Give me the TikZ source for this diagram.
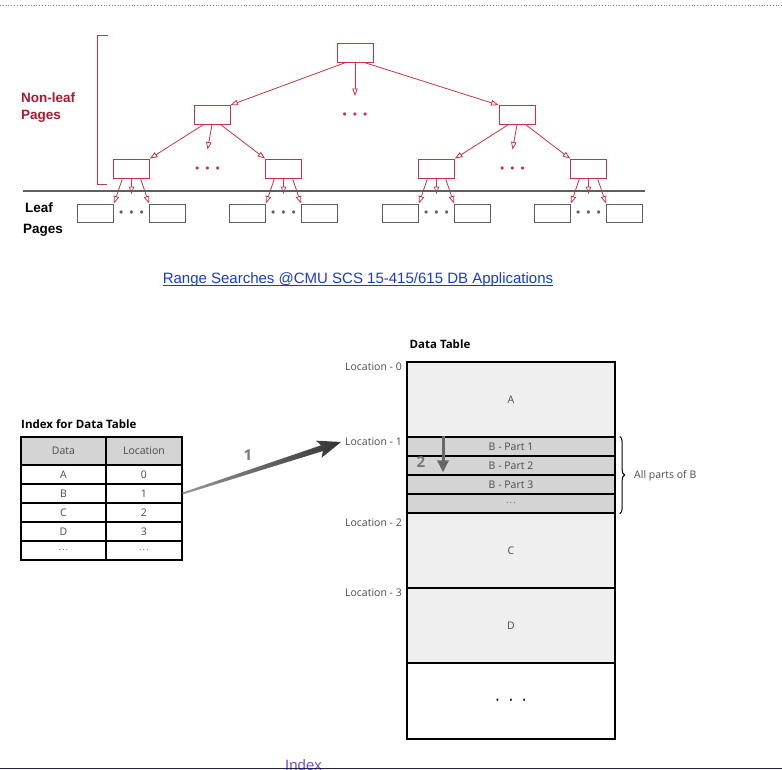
\documentclass[tikz,border=0pt]{standalone}
\usepackage{fontspec}
\setmainfont{Open Sans}
\newfontfamily\arialfont{Liberation Sans}
\usetikzlibrary{trees,arrows.meta,calc,decorations.pathreplacing}

\definecolor{treered}{RGB}{196,52,72}
\definecolor{labelred}{RGB}{172,24,44}
\definecolor{leafgray}{RGB}{95,95,95}
\definecolor{linkblue}{RGB}{28,58,205}
\definecolor{visited}{RGB}{110,80,205}
\definecolor{navyline}{RGB}{30,32,80}
\definecolor{headgray}{RGB}{212,212,212}
\definecolor{cellgray}{RGB}{239,239,239}
\definecolor{textgray}{RGB}{75,75,75}
\definecolor{stepgray}{RGB}{120,120,120}

\newcommand{\threedots}{$\bullet$\hspace{6pt}$\bullet$\hspace{6pt}$\bullet$}

\begin{document}
\begin{tikzpicture}[x=1pt,y=-1pt,
level 1/.style={level distance=62.5pt,sibling distance=152.5pt},
level 2/.style={level distance=53.5pt,sibling distance=76pt},
level 3/.style={level distance=44.5pt,sibling distance=36pt},
edge from parent/.style={draw=treered,line width=0.8pt,-{Triangle[open,length=7.5pt,width=5.5pt]}}]
\tikzstyle{page}=[draw=treered,line width=0.8pt,minimum width=36pt,minimum height=19pt,inner sep=0pt]
\tikzstyle{leaf}=[draw=leafgray,line width=1pt,minimum width=36pt,minimum height=18pt,inner sep=0pt]
\tikzstyle{dots}=[text=treered,font=\fontsize{8}{8}\selectfont,inner sep=0pt]
\tikzstyle{leafdots}=[dots,text=leafgray]
\tikzstyle{toleft}=[edge from parent path={([xshift=-9pt]\tikzparentnode.south) -- (\tikzchildnode.north east)}]
\tikzstyle{tomid}=[edge from parent path={(\tikzparentnode.south) -- ([yshift=19pt]\tikzchildnode.center)}]
\tikzstyle{toright}=[edge from parent path={([xshift=9pt]\tikzparentnode.south) -- (\tikzchildnode.north west)}]
\useasboundingbox (0,0) rectangle (782,769);
\draw[gray,dotted,line width=0.8pt] (0,5) -- (782,5);

    \node[page] (Root) at (355,52.5) {}
        child[toleft,xshift=9.5pt] {
        node[page] {}
        child[toleft,xshift=-4.5pt] {
            node[page] {}
            child[toleft] { node[leaf] {} }
            child[tomid] { node[leafdots] {\threedots} }
            child[toright] { node[leaf] {} }
        }
        child[tomid,xshift=-4.5pt] { node[dots] {\threedots} }
        child[toright,xshift=-4.5pt] {
            node[page] {}
            child[toleft] { node[leaf] {} }
            child[tomid] { node[leafdots] {\threedots} }
            child[toright] { node[leaf] {} }
        }
    }
    child[tomid] { node[dots] {\threedots} }
    child[toright,xshift=9.5pt] {
        node[page] {}
        child[toleft,xshift=-4.5pt] {
            node[page] {}
            child[toleft] { node[leaf] {} }
            child[tomid] { node[leafdots] {\threedots} }
            child[toright] { node[leaf] {} }
        }
        child[tomid,xshift=-4.5pt] { node[dots] {\threedots} }
        child[toright,xshift=-4.5pt] {
            node[page] {}
            child[toleft] { node[leaf] {} }
            child[tomid] { node[leafdots] {\threedots} }
            child[toright] { node[leaf] {} }
        }
        };
   % bracket and level names
   \draw[treered,line width=0.8pt] (108,35) -- (97,35) -- (97,184) -- (107,184);
   \draw[leafgray,line width=1.2pt] (23,191) -- (645,191);
   \begin{scope}[every node/.style={anchor=west,align=left,inner sep=0pt}]
     \node[text=labelred,font=\arialfont\bfseries\fontsize{13.5}{17}\selectfont] (nonleaf) at (21,107.5) {Non-leaf\\Pages};
     \node[font=\arialfont\bfseries\fontsize{13.5}{21}\selectfont] (leafname) at (23,219.5) {\hspace{2pt}Leaf\\Pages};
   \end{scope}

   % link caption
   \node[inner sep=0pt,text=linkblue,font=\arialfont\fontsize{15}{18}\selectfont] (link) at (358,279.5) {Range Searches @CMU SCS 15-415/615 DB Applications};
   \draw[linkblue,line width=0.8pt] ([yshift=-1.8pt]link.base west) -- ([yshift=-1.8pt]link.base east);

   % index table
\tikzstyle{cell}=[draw,line width=1.3pt,minimum height=19pt,text=textgray,font=\fontsize{10.5}{12}\selectfont]
\tikzstyle{datacol}=[cell,minimum width=85pt]
\tikzstyle{loccol}=[cell,minimum width=76pt]
\tikzstyle{head}=[fill=headgray,minimum height=28pt]
   \node[anchor=west,inner sep=0pt,font=\bfseries\fontsize{11.5}{13}\selectfont] (idxtitle) at (21,424) {Index for Data Table};
   \node[datacol,head] (hData) at (63.5,451) {Data};
   \node[loccol,head] (hLoc) at (144,451) {Location};
   \node[datacol] (dA) at (63.5,474.5) {A};   \node[loccol] (lA) at (144,474.5) {0};
   \node[datacol] (dB) at (63.5,493.5) {B};   \node[loccol] (lB) at (144,493.5) {1};
   \node[datacol] (dC) at (63.5,512.5) {C};   \node[loccol] (lC) at (144,512.5) {2};
   \node[datacol] (dD) at (63.5,531.5) {D};   \node[loccol] (lD) at (144,531.5) {3};
   \node[datacol] (dE) at (63.5,550.5) {\fontsize{8}{8}\selectfont .\,.\,.};
   \node[loccol] (lE) at (144,550.5) {\fontsize{8}{8}\selectfont .\,.\,.};

   % data table
\tikzstyle{block}=[draw,line width=1.3pt,minimum width=208pt,fill=cellgray,text=textgray,font=\fontsize{10.5}{12}\selectfont]
\tikzstyle{part}=[block,fill=headgray,minimum height=19pt]
\tikzstyle{loclabel}=[anchor=east,inner sep=0pt,text=textgray,font=\fontsize{10.5}{12}\selectfont]
   \node[inner sep=0pt,font=\bfseries\fontsize{11.5}{13}\selectfont] (dttitle) at (440,344) {Data Table};
   \node[block,minimum height=75pt] (blkA) at (511,399.5) {A};
   \node[part] (part1) at (511,446.5) {B - Part 1};
   \node[part] (part2) at (511,465.5) {B - Part 2};
   \node[part] (part3) at (511,484.5) {B - Part 3};
   \node[part] (partd) at (511,503.5) {\fontsize{8}{8}\selectfont .\,.\,.};
   \node[block,minimum height=75pt] (blkC) at (511,550.5) {C};
   \node[block,minimum height=75pt] (blkD) at (511,625.5) {D};
   \node[block,fill=white,minimum height=76pt,text=black] (blkE) at (511,701) {\fontsize{9}{9}\selectfont\textbullet\hspace{10pt}\textbullet\hspace{10pt}\textbullet};
   \node[loclabel] (loc0) at (402,367) {Location - 0};
   \node[loclabel] (loc1) at (402,442) {Location - 1};
   \node[loclabel] (loc2) at (402,523) {Location - 2};
   \node[loclabel] (loc3) at (402,593) {Location - 3};
   \draw[decorate,decoration={brace,amplitude=5pt},line width=1pt] ([xshift=4pt]part1.north east) -- ([xshift=4pt]partd.south east);
   \node[anchor=west,inner sep=0pt,text=textgray,font=\fontsize{10.5}{12}\selectfont] (allB) at (634,476) {All parts of B};

   % step arrows
\tikzstyle{stepnum}=[inner sep=0pt,text=stepgray,font=\bfseries\fontsize{15}{15}\selectfont]
   \coordinate (tip1) at ([xshift=-4pt]loc1.west);
   \shade[left color=black!40,right color=black!80]
     ($(lB.east)!1pt!90:(tip1)$) -- ($(lB.east)!0.88!(tip1)!3pt!90:(tip1)$) -- ($(lB.east)!0.86!(tip1)!9pt!90:(tip1)$) -- (tip1)
     -- ($(lB.east)!0.86!(tip1)!9pt!-90:(tip1)$) -- ($(lB.east)!0.88!(tip1)!3pt!-90:(tip1)$) -- ($(lB.east)!1pt!-90:(tip1)$) -- cycle;
   \node[stepnum] (one) at (248,455) {1};
   \coordinate (s2) at ([xshift=-68pt]part1.north);
   \coordinate (e2) at ([xshift=-68pt,yshift=-36pt]part1.north);
   \draw[black!60,line width=3pt,-{Triangle[length=12pt,width=11pt]}] (s2) -- (e2);
   \node[stepnum] (two) at (421,462) {2};

   % cut link at bottom
   \node[anchor=base,inner sep=0pt,text=visited,font=\arialfont\fontsize{15}{18}\selectfont] (index) at (303.5,770) {Index};
   \draw[navyline,line width=1.5pt] (0,768.5) -- (782,768.5);
\end{tikzpicture}
\end{document}
